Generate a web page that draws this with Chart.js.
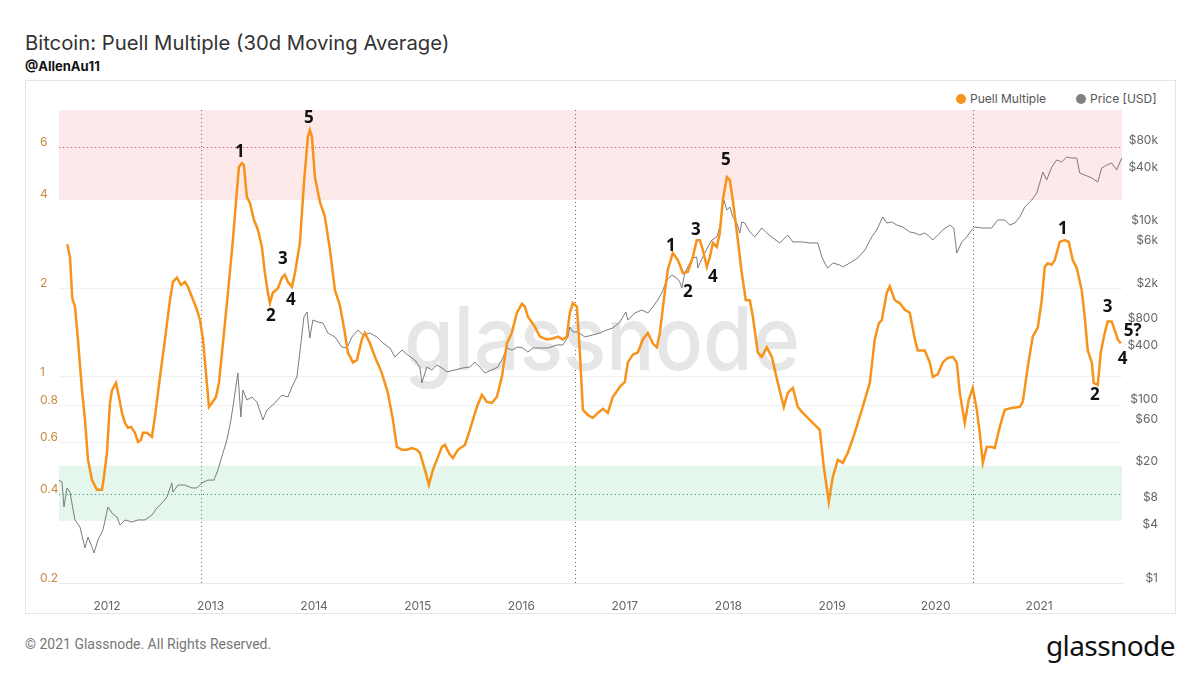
<!DOCTYPE html>
<html>
<head>
<meta charset="utf-8">
<script src="https://cdn.jsdelivr.net/npm/chart.js@4.4.0/dist/chart.umd.min.js"></script>
<style>
  body { margin: 0; background: #fff; }
  #page { position: relative; width: 1200px; height: 675px; overflow: hidden; font-family: Inter, "Open Sans", sans-serif; }
  #frame { position: absolute; left: 25px; top: 80px; width: 1149px; height: 532px; border: 1px solid #e6e6e6; }
  #title { position: absolute; left: 25px; top: 30px; font-size: 20.3px; color: #333; white-space: nowrap; }
  #sub { position: absolute; left: 25px; top: 58px; font-size: 13px; font-weight: 700; color: #111; }
  #legend { position: absolute; top: 91px; left: 956px; font-size: 12px; color: #555; white-space: nowrap; }
  #legend span.dot { display: inline-block; width: 10px; height: 10px; border-radius: 5px; vertical-align: -1px; margin-right: 4px; }
  #copy { position: absolute; left: 25px; top: 636px; font-size: 14px; color: #777; font-family: Roboto, sans-serif; }
  #logo { position: absolute; left: 1046px; top: 626px; font-size: 28px; color: #111; font-family: "Noto Sans", sans-serif; letter-spacing: -0.6px; }
  #wrap { position: absolute; left: 0; top: 0; width: 1200px; height: 675px; }
</style>
</head>
<body>
<div id="page">
  <div id="frame"></div>
  <div id="title">Bitcoin: Puell Multiple (30d Moving Average)</div>
  <div id="sub">@AllenAu11</div>
  <div id="legend"><span class="dot" style="background:#f7931a"></span>Puell Multiple<span class="dot" style="background:#808080;margin-left:30px"></span>Price [USD]</div>
  <div id="copy">© 2021 Glassnode. All Rights Reserved.</div>
  <div id="logo">glassnode</div>
  <div id="wrap"><canvas id="myChart"></canvas></div>
</div>
<script>
// Puell Multiple (30d MA), dates as decimal years
const puellDates = [2011.617,2011.643,2011.665,2011.691,2011.72,2011.759,2011.788,2011.817,2011.855,2011.903,2011.952,2011.971,2012.0,2012.029,2012.048,2012.087,2012.116,2012.145,2012.174,2012.203,2012.232,2012.27,2012.30,2012.328,2012.347,2012.386,2012.434,2012.463,2012.512,2012.56,2012.608,2012.637,2012.676,2012.714,2012.753,2012.782,2012.82,2012.869,2012.898,2012.927,2012.956,2012.985,2013.014,2013.052,2013.081,2013.12,2013.168,2013.216,2013.255,2013.274,2013.303,2013.322,2013.351,2013.38,2013.419,2013.458,2013.496,2013.525,2013.554,2013.573,2013.602,2013.651,2013.689,2013.718,2013.747,2013.786,2013.815,2013.863,2013.902,2013.94,2013.959,2013.979,2014.008,2014.056,2014.104,2014.153,2014.201,2014.249,2014.297,2014.326,2014.375,2014.413,2014.461,2014.49,2014.539,2014.587,2014.654,2014.712,2014.761,2014.799,2014.848,2014.896,2014.944,2014.992,2015.021,2015.07,2015.108,2015.147,2015.185,2015.234,2015.263,2015.311,2015.34,2015.388,2015.456,2015.504,2015.571,2015.62,2015.668,2015.716,2015.764,2015.813,2015.861,2015.909,2015.958,2016.006,2016.035,2016.064,2016.131,2016.18,2016.247,2016.305,2016.353,2016.402,2016.44,2016.469,2016.498,2016.537,2016.566,2016.595,2016.643,2016.691,2016.739,2016.788,2016.836,2016.884,2016.952,2017.0,2017.029,2017.077,2017.125,2017.174,2017.222,2017.27,2017.309,2017.338,2017.376,2017.415,2017.463,2017.512,2017.56,2017.608,2017.656,2017.695,2017.724,2017.753,2017.792,2017.821,2017.85,2017.888,2017.917,2017.946,2017.985,2018.014,2018.042,2018.091,2018.129,2018.168,2018.207,2018.236,2018.284,2018.322,2018.371,2018.419,2018.477,2018.535,2018.573,2018.622,2018.67,2018.718,2018.786,2018.834,2018.882,2018.921,2018.969,2019.008,2019.056,2019.104,2019.153,2019.22,2019.288,2019.365,2019.413,2019.452,2019.481,2019.529,2019.558,2019.606,2019.654,2019.703,2019.751,2019.80,2019.828,2019.896,2019.944,2019.973,2020.021,2020.07,2020.118,2020.166,2020.205,2020.234,2020.282,2020.32,2020.359,2020.398,2020.427,2020.456,2020.494,2020.542,2020.571,2020.62,2020.668,2020.736,2020.813,2020.842,2020.89,2020.938,2020.987,2021.025,2021.054,2021.083,2021.122,2021.151,2021.199,2021.247,2021.286,2021.324,2021.363,2021.411,2021.44,2021.469,2021.508,2021.527,2021.566,2021.595,2021.633,2021.662,2021.70,2021.739,2021.758,2021.788];
const puellValues = [2.82,2.55,1.85,1.73,1.34,0.90,0.715,0.523,0.448,0.414,0.414,0.458,0.553,0.816,0.90,0.954,0.855,0.755,0.698,0.672,0.677,0.646,0.602,0.612,0.646,0.646,0.626,0.732,1.00,1.34,1.82,2.10,2.17,2.05,2.10,2.02,1.87,1.69,1.56,1.34,1.03,0.791,0.816,0.855,0.954,1.30,1.93,2.91,4.30,5.15,5.31,5.23,4.07,3.89,3.41,3.15,2.76,2.25,1.93,1.78,1.93,2.00,2.17,2.22,2.10,2.02,2.25,2.85,4.55,6.51,6.88,6.51,4.76,3.92,3.49,2.70,1.97,1.75,1.41,1.21,1.12,1.14,1.34,1.41,1.30,1.17,1.03,0.883,0.715,0.579,0.566,0.566,0.574,0.566,0.553,0.484,0.431,0.484,0.523,0.579,0.588,0.544,0.531,0.566,0.588,0.661,0.791,0.869,0.823,0.816,0.855,1.00,1.30,1.41,1.65,1.77,1.73,1.60,1.48,1.37,1.34,1.35,1.37,1.34,1.37,1.65,1.78,1.73,1.21,0.773,0.743,0.726,0.755,0.779,0.755,0.855,0.925,0.962,1.12,1.19,1.21,1.34,1.41,1.30,1.26,1.41,1.82,2.31,2.63,2.49,2.25,2.27,2.55,2.91,2.91,2.70,2.36,2.55,2.85,2.76,3.08,3.98,4.76,4.65,3.98,2.91,2.25,1.82,1.82,1.60,1.21,1.17,1.26,1.17,0.954,0.791,0.883,0.918,0.791,0.755,0.715,0.688,0.661,0.495,0.377,0.458,0.523,0.511,0.553,0.646,0.773,0.954,1.34,1.52,1.56,1.93,2.03,1.82,1.78,1.69,1.65,1.34,1.23,1.23,1.12,1.00,1.02,1.12,1.16,1.17,1.12,0.883,0.698,0.836,0.918,0.773,0.646,0.511,0.579,0.579,0.574,0.677,0.773,0.785,0.791,0.823,1.08,1.37,1.47,1.82,2.36,2.43,2.40,2.49,2.87,2.91,2.87,2.49,2.34,1.97,1.60,1.23,1.12,0.954,0.94,1.21,1.41,1.54,1.54,1.41,1.34,1.30];

// BTC price in USD
const priceDates = [2011.537,2011.566,2011.585,2011.614,2011.643,2011.691,2011.739,2011.788,2011.817,2011.855,2011.875,2011.913,2011.961,2012.01,2012.048,2012.097,2012.125,2012.174,2012.241,2012.299,2012.367,2012.434,2012.483,2012.531,2012.579,2012.627,2012.637,2012.685,2012.753,2012.82,2012.869,2012.917,2012.975,2013.033,2013.071,2013.12,2013.158,2013.197,2013.226,2013.264,2013.293,2013.313,2013.351,2013.40,2013.448,2013.506,2013.544,2013.602,2013.689,2013.747,2013.786,2013.834,2013.873,2013.902,2013.931,2013.959,2013.988,2014.037,2014.085,2014.133,2014.201,2014.268,2014.317,2014.365,2014.423,2014.471,2014.539,2014.606,2014.664,2014.732,2014.78,2014.848,2014.905,2014.973,2015.021,2015.04,2015.089,2015.137,2015.185,2015.234,2015.282,2015.359,2015.436,2015.504,2015.552,2015.60,2015.649,2015.716,2015.774,2015.822,2015.861,2015.909,2015.967,2016.015,2016.064,2016.112,2016.18,2016.257,2016.344,2016.402,2016.45,2016.469,2016.498,2016.546,2016.614,2016.691,2016.759,2016.826,2016.884,2016.952,2017.01,2017.029,2017.097,2017.164,2017.222,2017.27,2017.318,2017.357,2017.405,2017.454,2017.502,2017.531,2017.55,2017.579,2017.627,2017.656,2017.695,2017.704,2017.753,2017.801,2017.84,2017.888,2017.917,2017.936,2017.956,2017.985,2018.014,2018.042,2018.081,2018.11,2018.129,2018.158,2018.207,2018.255,2018.322,2018.371,2018.429,2018.496,2018.573,2018.622,2018.708,2018.786,2018.863,2018.902,2018.931,2018.959,2019.008,2019.075,2019.104,2019.172,2019.249,2019.317,2019.384,2019.432,2019.49,2019.529,2019.577,2019.625,2019.683,2019.751,2019.80,2019.847,2019.896,2019.944,2019.973,2020.021,2020.07,2020.137,2020.176,2020.205,2020.253,2020.301,2020.349,2020.378,2020.446,2020.542,2020.60,2020.668,2020.716,2020.765,2020.813,2020.861,2020.929,2020.977,2021.006,2021.035,2021.073,2021.122,2021.17,2021.218,2021.266,2021.315,2021.363,2021.392,2021.44,2021.508,2021.566,2021.604,2021.653,2021.70,2021.749,2021.797];
const priceValues = [14.2,13.5,7.1,11.6,10.4,5.08,4.24,2.47,3.27,2.53,2.17,3.03,3.92,7.10,6.08,5.48,4.46,5.08,4.82,5.08,5.08,5.77,6.92,7.87,9.18,13.2,10.4,12.5,12.5,11.6,11.6,13.2,14.2,14.2,18.4,28.6,39.9,66.9,112,225,72.3,145,112,121,106,66.9,86.5,98.5,127,121,157,203,487,953,1084,554,881,837,816,630,569,439,428,569,681,599,630,569,487,428,340,406,357,314,262,174,262,243,276,256,231,243,256,262,298,262,225,243,262,331,428,406,439,428,386,428,428,428,463,463,569,736,647,647,569,599,630,681,717,837,1084,881,1055,1140,1055,1233,1476,1767,2470,2810,2600,2348,2010,2960,3830,4360,4475,3370,4475,5790,6935,7500,9700,15000,19450,15000,16250,12560,10750,8300,11040,10750,8530,7500,9450,8300,7300,6420,7890,6590,6590,6420,6420,4475,3830,3370,3830,3640,3460,3830,4360,5350,7500,8980,12560,10750,11040,10200,9700,8530,8300,7890,8300,7500,6935,7890,8980,10200,9450,4960,6590,7500,8980,9700,9450,9450,11620,11620,10200,10750,12560,16250,19450,23300,30150,40000,32600,45500,54600,51900,58900,57400,57400,39000,37060,34300,30950,44370,47970,50470,42170,57400];

const yearTicks = [2012,2013,2014,2015,2016,2017,2018,2019,2020,2021];
const puellTicks = [0.2,0.4,0.6,0.8,1,2,4,6];
const priceTicks = [1,4,8,20,60,100,400,800,2000,6000,10000,40000,80000];
const halvingDates = [2012.907,2016.517,2020.36];
const topBand = [4, 8.04];
const bottomBand = [0.325, 0.5];
const topLine = 6;
const bottomLine = 0.4;
// wave counts written on the chart [date, puell level, label]
const waveLabels = [
  [2013.95,7.55,'5'],[2013.284,5.79,'1'],[2013.699,2.51,'3'],[2013.583,1.61,'2'],[2013.776,1.82,'4'],
  [2017.975,5.44,'5'],[2017.444,2.78,'1'],[2017.685,3.15,'3'],[2017.608,1.94,'2'],[2017.85,2.18,'4'],
  [2021.228,3.18,'1'],[2021.662,1.73,'3'],[2021.537,0.869,'2'],[2021.903,1.43,'5?'],[2021.807,1.15,'4']
];

const pair = (xs, ys) => xs.slice(0, Math.min(xs.length, ys.length)).map((x, i) => ({x: x, y: ys[i]}));

const backdrop = {
  id: 'backdrop',
  beforeDatasetsDraw(chart) {
    const {ctx, chartArea: a, scales} = chart;
    const y = scales.y, x = scales.x;
    ctx.save();
    ctx.fillStyle = 'rgba(250,190,195,0.35)';
    ctx.fillRect(a.left, y.getPixelForValue(topBand[1]), a.right - a.left, y.getPixelForValue(topBand[0]) - y.getPixelForValue(topBand[1]));
    ctx.fillStyle = 'rgba(150,220,185,0.25)';
    ctx.fillRect(a.left, y.getPixelForValue(bottomBand[1]), a.right - a.left, y.getPixelForValue(bottomBand[0]) - y.getPixelForValue(bottomBand[1]));

    ctx.lineWidth = 1;
    ctx.setLineDash([1, 3]);
    ctx.strokeStyle = '#e0566a';
    let py = Math.round(y.getPixelForValue(topLine)) + 0.5;
    ctx.beginPath(); ctx.moveTo(a.left, py); ctx.lineTo(a.right, py); ctx.stroke();
    ctx.strokeStyle = '#3f9e6e';
    py = Math.round(y.getPixelForValue(bottomLine)) + 0.5;
    ctx.beginPath(); ctx.moveTo(a.left, py); ctx.lineTo(a.right, py); ctx.stroke();
    ctx.strokeStyle = '#666';
    halvingDates.forEach(d => {
      const px = Math.round(x.getPixelForValue(d)) + 0.5;
      ctx.beginPath(); ctx.moveTo(px, a.top); ctx.lineTo(px, a.bottom); ctx.stroke();
    });
    ctx.setLineDash([]);

    // watermark
    ctx.font = '500 88px Inter, sans-serif';
    const w = ctx.measureText('glassnode').width;
    ctx.fillStyle = '#e6e6e6';
    ctx.textBaseline = 'alphabetic';
    ctx.translate(404, 370);
    ctx.scale(396 / w, 1);
    ctx.fillText('glassnode', 0, 0);
    ctx.restore();
  },
  afterDatasetsDraw(chart) {
    const {ctx, scales} = chart;
    ctx.save();
    ctx.font = 'bold 17px "Open Sans", sans-serif';
    ctx.fillStyle = '#111';
    ctx.textAlign = 'center';
    ctx.textBaseline = 'middle';
    waveLabels.forEach(l => {
      ctx.fillText(l[2], scales.x.getPixelForValue(l[0]), scales.y.getPixelForValue(l[1]));
    });
    ctx.restore();
  }
};

function buildChart() {
  new Chart(document.getElementById('myChart'), {
    type: 'line',
    data: {
      datasets: [
        {
          label: 'Puell Multiple',
          data: pair(puellDates, puellValues),
          yAxisID: 'y',
          borderColor: '#f7931a',
          borderWidth: 2.5,
          pointRadius: 0,
          tension: 0
        },
        {
          label: 'Price [USD]',
          data: pair(priceDates, priceValues),
          yAxisID: 'y1',
          borderColor: '#7b7b7b',
          borderWidth: 1,
          pointRadius: 0,
          tension: 0
        }
      ]
    },
    options: {
      responsive: true,
      maintainAspectRatio: false,
      animation: false,
      layout: { padding: { left: 40, right: 42, top: 110, bottom: 62 } },
      plugins: { legend: { display: false }, tooltip: { enabled: false } },
      scales: {
        x: {
          type: 'linear',
          min: 2011.537,
          max: 2021.80,
          grid: { display: false },
          border: { display: true, color: '#e8e8e8' },
          afterBuildTicks: s => { s.ticks = yearTicks.map(v => ({value: v})); },
          afterFit: s => { s.height = 30; },
          ticks: { color: '#666', font: { size: 12, family: 'Inter' }, padding: 8, maxRotation: 0, callback: v => String(v) }
        },
        y: {
          type: 'logarithmic',
          position: 'left',
          min: 0.2,
          max: 8.04,
          grid: { color: '#f0f0f0', drawTicks: false },
          border: { display: false },
          afterBuildTicks: s => { s.ticks = puellTicks.map(v => ({value: v})); },
          afterFit: s => { s.width = 19; },
          ticks: { color: '#c98a40', font: { size: 12, family: 'Inter' }, crossAlign: 'far', labelOffset: -5, padding: 0, callback: v => String(v) }
        },
        y1: {
          type: 'logarithmic',
          position: 'right',
          min: 1,
          max: 198000,
          grid: { display: false, drawTicks: false },
          border: { display: false },
          afterBuildTicks: s => { s.ticks = priceTicks.map(v => ({value: v})); },
          afterFit: s => { s.width = 36; },
          ticks: { color: '#666', font: { size: 12, family: 'Inter' }, crossAlign: 'far', labelOffset: -5, padding: 0,
            callback: v => v >= 1000 ? '$' + (v / 1000) + 'k' : '$' + v }
        }
      }
    },
    plugins: [backdrop]
  });
}

Promise.all([
  document.fonts.load('500 88px Inter'),
  document.fonts.load('bold 17px "Open Sans"'),
  document.fonts.load('12px Inter')
]).then(buildChart, buildChart);
</script>
</body>
</html>
